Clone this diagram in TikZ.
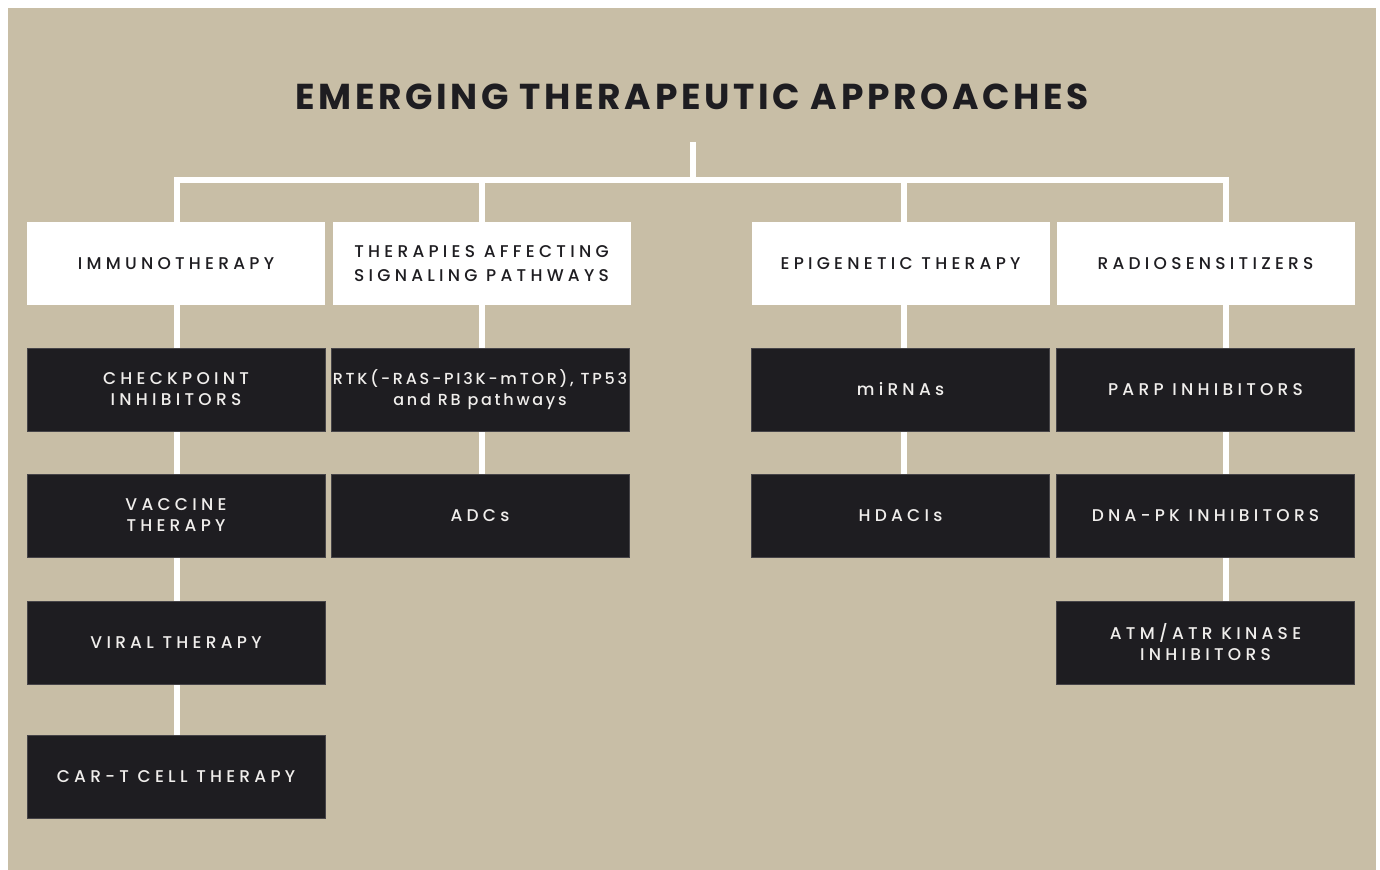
\documentclass[tikz,border=0pt]{standalone}
\usepackage{fontspec}
\setmainfont{Poppins}
\newfontfamily\boxfont[LetterSpace=25]{Poppins Medium}
\newfontfamily\rtkfont[LetterSpace=17]{Poppins Medium}
\newfontfamily\titlefont[LetterSpace=10]{Poppins}
\usetikzlibrary{backgrounds}
\definecolor{bg}{RGB}{200,190,166}
\definecolor{dark}{RGB}{30,29,33}
\definecolor{darkedge}{RGB}{70,68,72}
\definecolor{lighttext}{RGB}{240,238,236}
\tikzset{
  head/.style={fill=white, text=dark, minimum width=149pt, minimum height=41.5pt, inner sep=0pt,
    align=center, font=\boxfont\fontsize{8.5}{12}\selectfont},
  leaf/.style={fill=dark, draw=darkedge, line width=0.4pt, text=lighttext, minimum width=149pt, minimum height=41.5pt, inner sep=0pt,
    align=center, font=\boxfont\fontsize{8.5}{10.5}\selectfont},
  conn/.style={draw=white, line width=3pt},
}
\begin{document}
\begin{tikzpicture}[x=0.5pt,y=-0.5pt]
\useasboundingbox (0,0) rectangle (1380,870);
% title
\node[font=\titlefont\bfseries\fontsize{18}{20}\selectfont, text=dark] (title) at (692,97) {EMERGING THERAPEUTIC APPROACHES};
% headers
\node[head] (h1) at (176,263.5) {IMMUNOTHERAPY};
\node[head] (h2) at (481.5,263.5) {THERAPIES AFFECTING\\SIGNALING PATHWAYS};
\node[head] (h3) at (900.5,263.5) {EPIGENETIC THERAPY};
\node[head] (h4) at (1205.5,263.5) {RADIOSENSITIZERS};
% column 1
\node[leaf] (a1) at (176,389.5) {CHECKPOINT\\INHIBITORS};
\node[leaf] (a2) at (176,515.5) {VACCINE\\THERAPY};
\node[leaf] (a3) at (176,642.5) {VIRAL THERAPY};
\node[leaf] (a4) at (176,776.5) {CAR-T CELL THERAPY};
% column 2
\node[leaf, font=\rtkfont\fontsize{8}{10.5}\selectfont] (b1) at (480,389.5) {RTK(-RAS-PI3K-mTOR), TP53\\and RB pathways};
\node[leaf] (b2) at (480,515.5) {ADCs};
% column 3
\node[leaf] (c1) at (900.5,389.5) {miRNAs};
\node[leaf] (c2) at (900.5,515.5) {HDACIs};
% column 4
\node[leaf] (d1) at (1205.5,389.5) {PARP INHIBITORS};
\node[leaf] (d2) at (1205.5,515.5) {DNA-PK INHIBITORS};
\node[leaf] (d3) at (1205.5,642.5) {ATM/ATR KINASE\\INHIBITORS};
% connector points
\coordinate (stemtop) at (692.5,142);
\coordinate (stembot) at (692.5,180);
\coordinate (k1) at (176.5,180);
\coordinate (k2) at (482,180);
\coordinate (k3) at (904,180);
\coordinate (k4) at (1226,180);
\begin{scope}[on background layer]
  \fill[white] (0,0) rectangle (1380,870);
  \fill[bg] (8,8) rectangle (1376,870);
  \draw[conn] (stemtop) -- (stembot);
  \draw[conn] (k1 |- a4.north) -- (k1) -- (k4) -- (k4 |- d3.north);
  \draw[conn] (k2) -- (k2 |- b2.north);
  \draw[conn] (k3) -- (k3 |- c2.north);
\end{scope}
\end{tikzpicture}
\end{document}
